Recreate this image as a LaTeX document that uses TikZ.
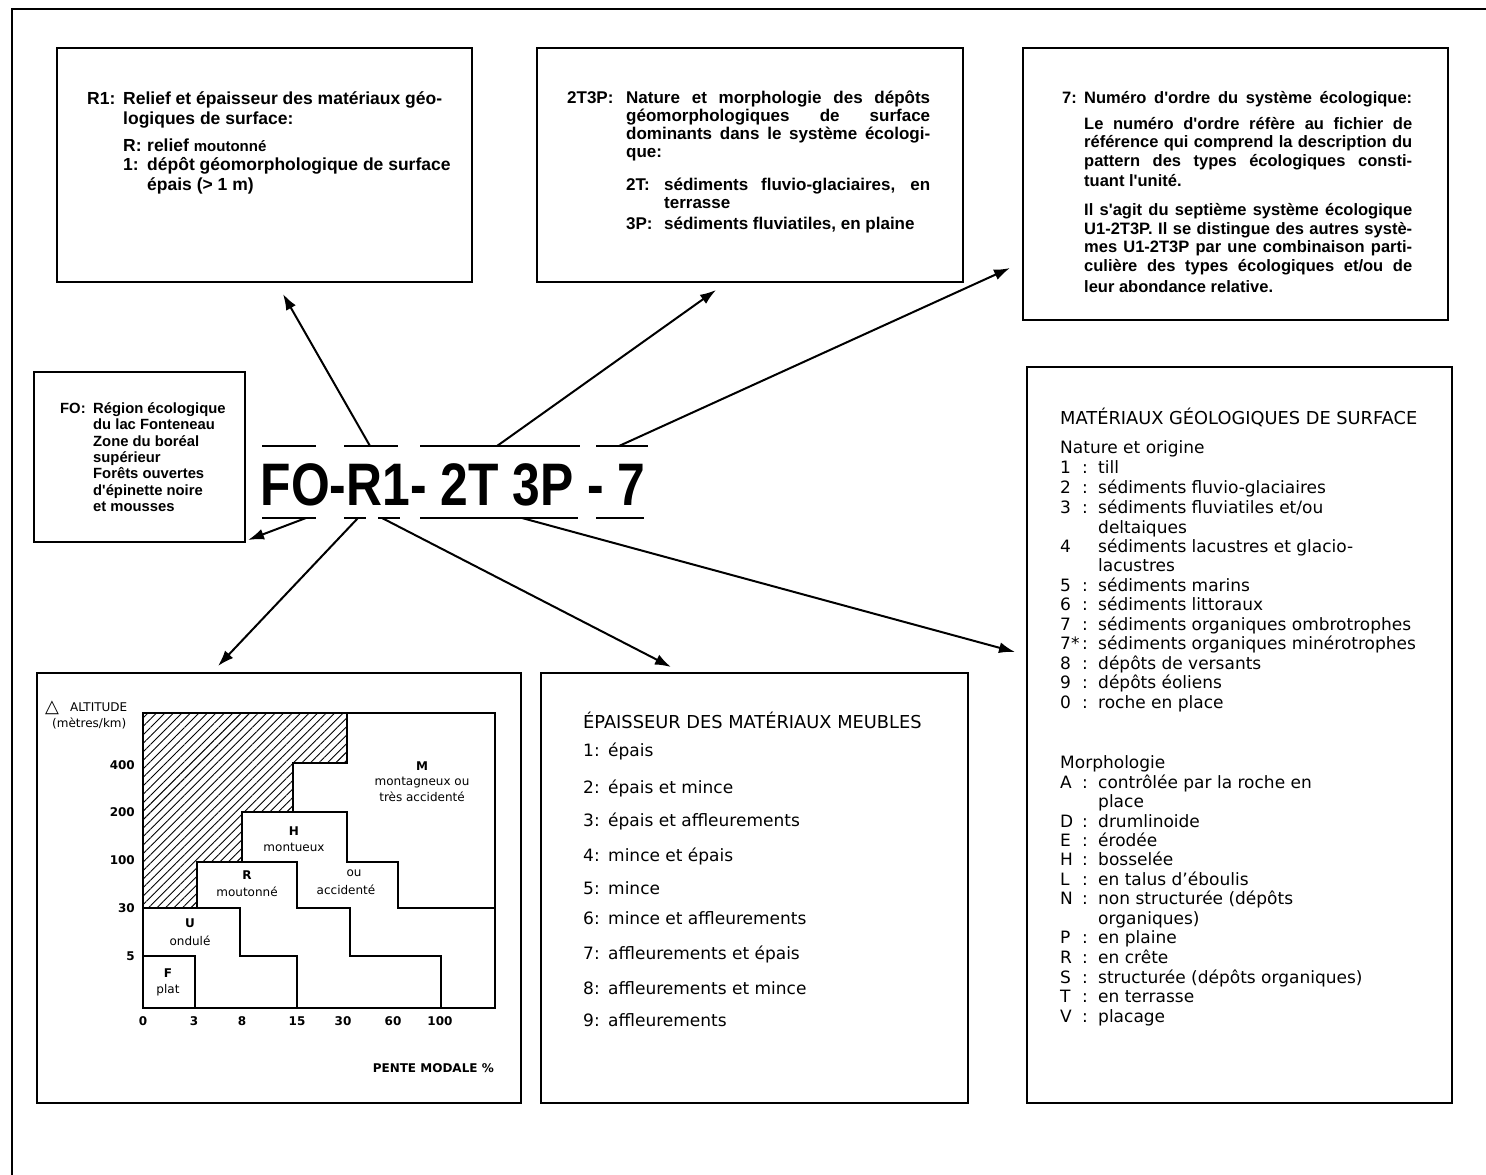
\documentclass[tikz,border=0pt]{standalone}
\usepackage{graphicx}
\usepackage{fontspec}
\setmainfont{DejaVu Sans}
\newfontfamily\arialf{Liberation Sans}
\usetikzlibrary{arrows.meta,patterns.meta}
\newcommand\jl[2]{\makebox[#1][s]{#2}}
\begin{document}
\begin{tikzpicture}[x=1pt,y=-1pt,
  box/.style={draw, line width=2.4pt, inner sep=0pt},
  frame/.style={line width=2.2pt},
  ln/.style={anchor=base west, inner sep=0pt},
  lc/.style={anchor=base, inner sep=0pt},
  lr/.style={anchor=base east, inner sep=0pt},
  arr/.style={line width=2pt, -{Latex[length=16pt,width=11pt]}},
  dsh/.style={line width=1.8pt},
  gl/.style={line width=1.6pt},
  fA/.style={font=\arialf\bfseries\fontsize{17.5}{20}\selectfont},
  fB/.style={font=\arialf\bfseries\fontsize{17}{18}\selectfont},
  fC/.style={font=\arialf\bfseries\fontsize{16.5}{18}\selectfont},
  fFO/.style={font=\arialf\bfseries\fontsize{14.8}{16}\selectfont},
  fR/.style={font=\fontsize{17}{20}\selectfont},
  fRt/.style={font=\fontsize{17.8}{20}\selectfont},
  fG/.style={font=\fontsize{12}{14}\selectfont},
  fGb/.style={font=\bfseries\fontsize{12}{14}\selectfont},
  fGs/.style={font=\fontsize{12}{13}\selectfont}]
\useasboundingbox (0,0) rectangle (1486,1175);
\fill[white] (0,0) rectangle (1486,1175);
\draw[frame] (1486,9) -- (12,9) -- (12,1175);

% boxes
\node[box, minimum width=415pt, minimum height=234pt] (boxA) at (264.5,165) {};
\node[box, minimum width=426pt, minimum height=234pt] (boxB) at (750,165) {};
\node[box, minimum width=425pt, minimum height=272pt] (boxC) at (1235.5,184) {};
\node[box, minimum width=211pt, minimum height=170pt] (boxFO) at (139.5,457) {};
\node[box, minimum width=484pt, minimum height=430pt] (boxG) at (279,888) {};
\node[box, minimum width=427pt, minimum height=430pt] (boxE) at (754.5,888) {};
\node[box, minimum width=425pt, minimum height=736pt] (boxF) at (1239.5,735) {};

% box A
\node[ln,fA] (a0) at (87,104) {R1:};
\node[ln,fA] (a1) at (123,104) {Relief et épaisseur des matériaux géo-};
\node[ln,fA] (a2) at (123,124) {logiques de surface:};
\node[ln,fA] (a3) at (123,151) {R:};
\node[ln,fA] (a4) at (147,151) {relief {\fontsize{15}{16}\selectfont moutonné}};
\node[ln,fA] (a5) at (123,170) {1:};
\node[ln,fA] (a6) at (147,170) {dépôt géomorphologique de surface};
\node[ln,fA] (a7) at (147,190) {épais (> 1 m)};

% box B
\node[ln,fB] (b0) at (567,103) {2T3P:};
\node[ln,fB] (b1) at (626,103) {\jl{304pt}{Nature et morphologie des dépôts}};
\node[ln,fB] (b2) at (626,121) {\jl{304pt}{géomorphologiques de surface}};
\node[ln,fB] (b3) at (626,139) {\jl{304pt}{dominants dans le système écologi-}};
\node[ln,fB] (b4) at (626,157) {que:};
\node[ln,fB] (b5) at (626,190) {2T:};
\node[ln,fB] (b6) at (664,190) {\jl{266pt}{sédiments fluvio-glaciaires, en}};
\node[ln,fB] (b7) at (664,208) {terrasse};
\node[ln,fB] (b8) at (626,229) {3P:};
\node[ln,fB] (b9) at (664,229) {sédiments fluviatiles, en plaine};

% box C
\node[ln,fC] (c0) at (1062,103) {7:};
\node[ln,fC] (c1) at (1084,103) {\jl{328pt}{Numéro d'ordre du système écologique:}};
\node[ln,fC] (c2) at (1084,129) {\jl{328pt}{Le numéro d'ordre réfère au fichier de}};
\node[ln,fC] (c3) at (1084,147) {\jl{328pt}{référence qui comprend la description du}};
\node[ln,fC] (c4) at (1084,166) {\jl{328pt}{pattern des types écologiques consti-}};
\node[ln,fC] (c5) at (1084,186) {tuant l'unité.};
\node[ln,fC] (c6) at (1084,215) {\jl{328pt}{Il s'agit du septième système écologique}};
\node[ln,fC] (c7) at (1084,234) {\jl{328pt}{U1-2T3P. Il se distingue des autres systè-}};
\node[ln,fC] (c8) at (1084,252) {\jl{328pt}{mes U1-2T3P par une combinaison parti-}};
\node[ln,fC] (c9) at (1084,271) {\jl{328pt}{culière des types écologiques et/ou de}};
\node[ln,fC] (c10) at (1084,292) {leur abondance relative.};

% FO box
\node[ln,fFO] (fo0) at (60,413) {FO:};
\foreach \y/\t [count=\i] in {413/Région écologique, 429/du lac Fonteneau, 446/Zone du boréal,
  462/supérieur, 478/Forêts ouvertes, 495/d'épinette noire, 511/et mousses}
  \node[ln,fFO] (fo\i) at (93,\y) {\t};

% central code
\node[anchor=base, inner sep=0pt] (code) at (453,505)
  {\scalebox{0.83}[1]{\arialf\bfseries\fontsize{60}{60}\selectfont FO-R1- 2T 3P - 7}};
\foreach \a/\b in {262/316,344/398,420/580,596/648} \draw[dsh] (\a,446) -- (\b,446);
\foreach \a/\b in {262/316,344/366,378/400,420/578,596/644} \draw[dsh] (\a,518) -- (\b,518);

% connectors
\coordinate (s1) at (370,446); \coordinate (t1) at (283,294);
\coordinate (s2) at (497,446); \coordinate (t2) at (716,290);
\coordinate (s3) at (619,446); \coordinate (t3) at (1010,268);
\coordinate (s4) at (306,518); \coordinate (t4) at (248,540);
\coordinate (s5) at (358,518); \coordinate (t5) at (218,666);
\coordinate (s6) at (382,518); \coordinate (t6) at (671,667);
\coordinate (s7) at (522,518); \coordinate (t7) at (1015,652);
\foreach \i in {1,...,7} \draw[arr] (s\i) -- (t\i);

% graph
\fill[pattern={Lines[angle=45,distance=6pt,line width=0.9pt]}]
  (143,713) -- (347,713) -- (347,763) -- (293,763) -- (293,812) -- (242,812) -- (242,862)
  -- (197,862) -- (197,908) -- (143,908) -- cycle;
\draw[gl] (143,713) rectangle (495,1008);
\draw[gl] (347,713) -- (347,763) -- (293,763) -- (293,812);
\draw[gl] (242,862) -- (242,812) -- (347,812) -- (347,862) -- (398,862) -- (398,908) -- (495,908);
\draw[gl] (197,908) -- (197,862) -- (297,862) -- (297,908) -- (350,908) -- (350,956) -- (441,956) -- (441,1008);
\draw[gl] (143,908) -- (240,908) -- (240,956) -- (297,956) -- (297,1008);
\draw[gl] (143,956) -- (195,956) -- (195,1008);

\node[ln,font=\fontsize{18}{18}\selectfont] (tri) at (45,712) {△};
\node[ln,fGs] (alt) at (70,711) {ALTITUDE};
\node[ln,fGs] (unit) at (52,727) {(mètres/km)};
\foreach \y/\t [count=\i] in {769/400, 816/200, 864/100, 912/30, 960/5}
  \node[lr,fGb] (yt\i) at (135,\y) {\t};
\foreach \x/\t [count=\i] in {143/0, 194/3, 242/8, 297/15, 343/30, 393/60, 440/100}
  \node[lc,fGb] (xt\i) at (\x,1025) {\t};
\node[lr,fGb] (pente) at (494,1072) {PENTE MODALE \%};

\node[lc,fGb] (gM) at (422,770) {M};
\node[lc,fG] (gM2) at (422,785) {montagneux ou};
\node[lc,fG] (gM3) at (422,801) {très accidenté};
\node[lc,fGb] (gH) at (294,835) {H};
\node[lc,fG] (gH2) at (294,851) {montueux};
\node[lc,fG] (gH3) at (354,876) {ou};
\node[lc,fG] (gH4) at (346,894) {accidenté};
\node[lc,fGb] (gR) at (247,879) {R};
\node[lc,fG] (gR2) at (247,896) {moutonné};
\node[lc,fGb] (gU) at (190,927) {U};
\node[lc,fG] (gU2) at (190,945) {ondulé};
\node[lc,fGb] (gF) at (168,977) {F};
\node[lc,fG] (gF2) at (168,993) {plat};

% box E
\node[ln,fRt] (eT) at (583,728) {ÉPAISSEUR DES MATÉRIAUX MEUBLES};
\foreach \y/\k/\t [count=\i] in {756/1/épais, 793/2/épais et mince, 826/3/épais et affleurements,
  861/4/mince et épais, 894/5/mince, 924/6/mince et affleurements, 959/7/affleurements et épais,
  994/8/affleurements et mince, 1026/9/affleurements}
  {\node[ln,fR] (ek\i) at (583,\y) {\k:};
   \node[ln,fR] (et\i) at (608,\y) {\t};}

% box F
\node[ln,fRt] (fT) at (1060,424) {MATÉRIAUX GÉOLOGIQUES DE SURFACE};
\node[ln,fR] (fN) at (1060,453) {Nature et origine};
\foreach \y/\k/\c/\t [count=\i] in {473/1/:/till, 493/2/:/sédiments fluvio-glaciaires,
  513/3/:/{sédiments fluviatiles et/ou}, 533///deltaiques, 552/4//sédiments lacustres et glacio-,
  571///lacustres, 591/5/:/sédiments marins, 610/6/:/sédiments littoraux,
  630/7/:/sédiments organiques ombrotrophes, 649/7*/:/sédiments organiques minérotrophes,
  669/8/:/dépôts de versants, 688/9/:/dépôts éoliens, 708/0/:/roche en place}
  {\node[ln,fR] (fk\i) at (1060,\y) {\k};
   \node[ln,fR] (fc\i) at (1082,\y) {\c};
   \node[ln,fR] (ft\i) at (1098,\y) {\t};}
\node[ln,fR] (fM) at (1060,768) {Morphologie};
\foreach \y/\k/\t [count=\i] in {788/A/contrôlée par la roche en, 807//place, 827/D/drumlinoide,
  846/E/érodée, 865/H/bosselée, 885/L/en talus d'éboulis, 904/N/non structurée (dépôts,
  924//organiques), 943/P/en plaine, 963/R/en crête, 983/S/structurée (dépôts organiques),
  1002/T/en terrasse, 1022/V/placage}
  {\node[ln,fR] (mk\i) at (1060,\y) {\k};
   \node[ln,fR] (mt\i) at (1098,\y) {\t};}
\foreach \y [count=\i] in {788,827,846,865,885,904,943,963,983,1002,1022}
  \node[ln,fR] (mc\i) at (1082,\y) {:};
\end{tikzpicture}
\end{document}
